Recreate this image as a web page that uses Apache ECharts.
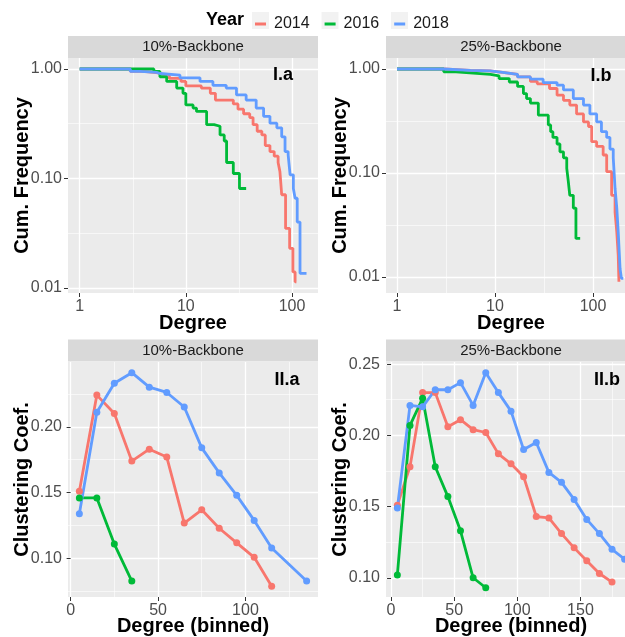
<!DOCTYPE html>
<html>
<head>
  <meta charset="UTF-8">
  <title>Degree distribution and clustering by backbone</title>
  <script src="https://cdn.jsdelivr.net/npm/echarts@6/dist/echarts.min.js"></script>
  <style>
    html, body { margin:0; padding:0; background:#fff; }
    #chart { width:625px; height:637px; }
  </style>
</head>
<body>
<div id="chart"></div>
<script type="text/javascript">
  var years = ['2014', '2016', '2018'];
  var colors = ['#F8766D', '#00BA38', '#619CFF'];

  // I.a / I.b : cumulative degree frequency, [degree, cum. frequency]
  var cum10_2014 = [[1,1],[3,0.95],[4,0.92],[5.5,0.90],[6,0.87],[7,0.82],[9,0.77],[10,0.70],[14,0.67],[17,0.60],[19,0.52],[28,0.48],[31,0.43],[35,0.39],[40,0.36],[43,0.31],[47,0.27],[52,0.25],[56,0.20],[62,0.176],[68,0.16],[74,0.14],[77,0.115],[80,0.071],[87,0.035],[95,0.023],[102,0.014],[107,0.0114],[110,0.0114]];
  var cum10_2016 = [[1,1],[5,0.95],[5.7,0.85],[6.6,0.77],[8.2,0.67],[9.4,0.60],[10,0.47],[11.7,0.44],[12.6,0.41],[15.7,0.31],[18.5,0.30],[21,0.25],[23,0.22],[24.2,0.14],[28,0.111],[32,0.081],[37,0.081]];
  var cum10_2018 = [[1,1],[3,0.95],[3.7,0.93],[5.3,0.91],[5.7,0.88],[8.8,0.83],[13.6,0.77],[18,0.71],[24,0.67],[30,0.58],[37,0.52],[46,0.44],[54,0.37],[62,0.32],[72,0.29],[80,0.24],[86,0.176],[92,0.164],[96,0.108],[103,0.081],[107,0.066],[112,0.040],[119,0.0136],[137,0.0136]];

  var cum25_2014 = [[1,1],[3,0.97],[5.6,0.96],[8.9,0.93],[12,0.89],[17,0.84],[23,0.76],[27,0.72],[36,0.65],[43,0.56],[50,0.50],[58,0.45],[68,0.37],[80,0.31],[90,0.28],[97,0.20],[109,0.18],[127,0.149],[138,0.103],[155,0.061],[168,0.042],[175,0.027],[181,0.016],[184,0.009],[186,0.009]];
  var cum25_2016 = [[1,1],[3,0.94],[4,0.91],[6.5,0.89],[9,0.86],[11,0.81],[14,0.75],[17,0.68],[19.5,0.58],[21,0.52],[23,0.47],[27.7,0.36],[35,0.29],[37,0.25],[39,0.22],[43,0.19],[46,0.16],[50,0.14],[54,0.111],[56,0.083],[58,0.061],[63,0.046],[67,0.0235],[74,0.0235]];
  var cum25_2018 = [[1,1],[3,0.97],[5.6,0.96],[8.9,0.93],[12,0.89],[17,0.84],[23,0.80],[31,0.74],[43,0.70],[50,0.63],[63,0.52],[80,0.45],[93,0.37],[109,0.31],[122,0.25],[138,0.22],[149,0.17],[161,0.14],[168,0.071],[175,0.046],[181,0.027],[189,0.012],[195,0.0097],[204,0.0097]];

  // II.a / II.b : clustering coefficient per degree bin
  var bins10_2014 = [5,15,25,35,45,55,65,75,85,95,105,115];
  var clust10_2014 = [0.151,0.224,0.210,0.174,0.183,0.177,0.127,0.137,0.123,0.112,0.101,0.079];
  var bins10_2016 = [5,15,25,35];
  var clust10_2016 = [0.146,0.146,0.111,0.083];
  var bins10_2018 = [5,15,25,35,45,55,65,75,85,95,105,115,135];
  var clust10_2018 = [0.134,0.211,0.233,0.241,0.230,0.226,0.215,0.184,0.165,0.148,0.129,0.108,0.083];

  var bins25_2014 = [5,15,25,35,45,55,65,75,85,95,105,115,125,135,145,155,165,175];
  var clust25_2014 = [0.151,0.178,0.230,0.230,0.206,0.211,0.204,0.202,0.187,0.180,0.171,0.143,0.142,0.131,0.121,0.112,0.103,0.097];
  var bins25_2016 = [5,15,25,35,45,55,65,75];
  var clust25_2016 = [0.102,0.207,0.226,0.178,0.157,0.133,0.100,0.093];
  var bins25_2018 = [5,15,25,35,45,55,65,75,85,95,105,115,125,135,145,155,165,175,185];
  var clust25_2018 = [0.149,0.221,0.220,0.232,0.232,0.237,0.221,0.244,0.230,0.217,0.190,0.195,0.174,0.167,0.155,0.141,0.131,0.120,0.113];

  var logTicksX = [1, 10, 100];
  var logTicksY = [1, 0.1, 0.01];

  var FONT = 'Liberation Sans, Arial, sans-serif';
  var titleStyle = { fontFamily: FONT, fontSize: 20, fontWeight: 'bold', color: '#000' };
  var labelStyle = { fontFamily: FONT, fontSize: 16, color: '#4D4D4D' };

  function zip(xs, ys) {
    return ys.map(function(v, i){ return [xs[i], v]; });
  }

  function mainAxis(grid, type, min, max, name, gap, ticks, fmt, extra) {
    var a = {
      type: type, gridIndex: grid, min: min, max: max,
      name: name, nameLocation: 'middle', nameGap: gap, nameTextStyle: titleStyle,
      nameMoveOverlap: false,
      axisLine: { show: false },
      axisTick: { show: true, length: 4, lineStyle: { color: '#333', width: 1 } },
      axisLabel: Object.assign({ margin: 6, formatter: fmt }, labelStyle),
      splitLine: { show: true, lineStyle: { color: '#fff', width: 1.3 } }
    };
    if (type === 'log') a.logBase = 10;
    if (ticks) {
      a.axisTick.customValues = ticks;
      a.axisLabel.customValues = ticks;
    }
    return Object.assign(a, extra || {});
  }

  // extra hidden log axis, only for the half-decade minor grid
  function minorLogAxis(grid, min, max, vals) {
    return {
      type: 'log', logBase: 10, gridIndex: grid, min: min, max: max,
      axisLine: { show: false },
      axisTick: { show: false, customValues: vals },
      axisLabel: { show: false },
      splitLine: { show: true, lineStyle: { color: '#fff', width: 0.6 } }
    };
  }

  var minorOpts = function(n) {
    return { splitNumber: n, minorTick: { show: false, splitNumber: 2 },
             minorSplitLine: { show: true, lineStyle: { color: '#fff', width: 0.6 } } };
  };

  var p = Math.pow;
  var fmtInt = function(v){ return String(Math.round(v)); };
  var fmt2 = function(v){ return Number(v).toFixed(2); };

  var xAxes = [
    mainAxis(0, 'log', p(10,-0.11), p(10,2.245), 'Degree', 20, logTicksX, fmtInt),
    mainAxis(1, 'log', p(10,-0.112), p(10,2.439), 'Degree', 20, logTicksX, fmtInt),
    mainAxis(2, 'value', -1.5, 141.5, 'Degree (binned)', 19, null, fmtInt, minorOpts(3)),
    mainAxis(3, 'value', -4, 194, 'Degree (binned)', 19, null, fmtInt, minorOpts(4)),
    minorLogAxis(0, p(10,-0.11), p(10,2.245), [p(10,0.5), p(10,1.5)]),
    minorLogAxis(1, p(10,-0.112), p(10,2.439), [p(10,0.5), p(10,1.5)])
  ];
  var yAxes = [
    mainAxis(0, 'log', p(10,-2.046), p(10,0.1005), 'Cum. Frequency', 36, logTicksY, fmt2),
    mainAxis(1, 'log', p(10,-2.154), p(10,0.106), 'Cum. Frequency', 36, logTicksY, fmt2),
    mainAxis(2, 'value', 0.0709, 0.2491, 'Clustering Coef.', 36, null, fmt2, minorOpts(4)),
    mainAxis(3, 'value', 0.0865, 0.2515, 'Clustering Coef.', 36, null, fmt2, minorOpts(4)),
    minorLogAxis(0, p(10,-2.046), p(10,0.1005), [p(10,-0.5), p(10,-1.5)]),
    minorLogAxis(1, p(10,-2.154), p(10,0.106), [p(10,-0.5), p(10,-1.5)])
  ];
  // binned axes: no labels or lines at the padded ends
  [xAxes[2], xAxes[3], yAxes[2], yAxes[3]].forEach(function(a){
    a.axisLabel.showMinLabel = false;
    a.axisLabel.showMaxLabel = false;
    a.splitLine.showMinLine = false;
    a.splitLine.showMaxLine = false;
  });

  function stepLine(k, data, ax) {
    return {
      type: 'line', name: years[k], data: data, xAxisIndex: ax, yAxisIndex: ax,
      step: 'end', showSymbol: false, symbol: 'none',
      lineStyle: { color: colors[k], width: 2.8 }, itemStyle: { color: colors[k] }
    };
  }
  function dotLine(k, data, ax) {
    return {
      type: 'line', name: years[k], data: data, xAxisIndex: ax, yAxisIndex: ax,
      symbol: 'circle', symbolSize: 7, showSymbol: true,
      lineStyle: { color: colors[k], width: 2.8 }, itemStyle: { color: colors[k] }
    };
  }

  var series = [
    stepLine(0, cum10_2014, 0), stepLine(1, cum10_2016, 0), stepLine(2, cum10_2018, 0),
    stepLine(0, cum25_2014, 1), stepLine(1, cum25_2016, 1), stepLine(2, cum25_2018, 1),
    dotLine(0, zip(bins10_2014, clust10_2014), 2), dotLine(1, zip(bins10_2016, clust10_2016), 2), dotLine(2, zip(bins10_2018, clust10_2018), 2),
    dotLine(0, zip(bins25_2014, clust25_2014), 3), dotLine(1, zip(bins25_2016, clust25_2016), 3), dotLine(2, zip(bins25_2018, clust25_2018), 3)
  ];

  function gridAt(left, top) {
    return { left: left, top: top, width: 250, height: 235, show: true, backgroundColor: '#EBEBEB',
             borderWidth: 0, containLabel: false, outerBoundsMode: 'none' };
  }

  function strip(x, y, label) {
    return [
      { type: 'rect', shape: { x: x, y: y, width: 250, height: 22 }, style: { fill: '#D9D9D9' }, silent: true },
      { type: 'text', x: x + 125, y: y + 11, silent: true,
        style: { text: label, font: '15px ' + FONT, fill: '#1A1A1A', align: 'center', verticalAlign: 'middle', textAlign: 'center', textVerticalAlign: 'middle' } }
    ];
  }
  function tag(x, y, label) {
    return { type: 'text', x: x, y: y, silent: true, z: 10,
      style: { text: label, font: 'bold 18px ' + FONT, fill: '#000', align: 'center', verticalAlign: 'middle', textAlign: 'center', textVerticalAlign: 'middle' } };
  }
  function keyBg(x) {
    return { type: 'rect', shape: { x: x, y: 12, width: 17, height: 17 }, style: { fill: '#F2F2F2' }, silent: true };
  }

  var graphics = [].concat(
    strip(68, 36, '10%-Backbone'), strip(386, 36, '25%-Backbone'),
    strip(68, 339.5, '10%-Backbone'), strip(386, 339.5, '25%-Backbone'),
    [tag(283, 75, 'I.a'), tag(601, 76, 'I.b'), tag(287, 380, 'II.a'), tag(607, 380, 'II.b'),
     { type: 'text', x: 206, y: 20.5, silent: true,
       style: { text: 'Year', font: 'bold 18px ' + FONT, fill: '#000', align: 'left', verticalAlign: 'middle', textAlign: 'left', textVerticalAlign: 'middle' } },
     keyBg(252), keyBg(321.5), keyBg(391)]
  );

  var chart = echarts.init(document.getElementById('chart'), null, { renderer: 'canvas' });
  chart.setOption({
    animation: false,
    backgroundColor: '#fff',
    textStyle: { fontFamily: FONT },
    legend: {
      data: years, left: 255, top: 16, padding: 0, icon: 'rect', itemWidth: 11, itemHeight: 3, itemGap: 15,
      textStyle: { fontFamily: FONT, fontSize: 16, color: '#1A1A1A', padding: [0, 0, 0, 3] },
      selectedMode: false
    },
    grid: [gridAt(68, 58), gridAt(386, 58), gridAt(68, 362), gridAt(386, 362)],
    xAxis: xAxes,
    yAxis: yAxes,
    graphic: graphics,
    series: series
  });
</script>
</body>
</html>
